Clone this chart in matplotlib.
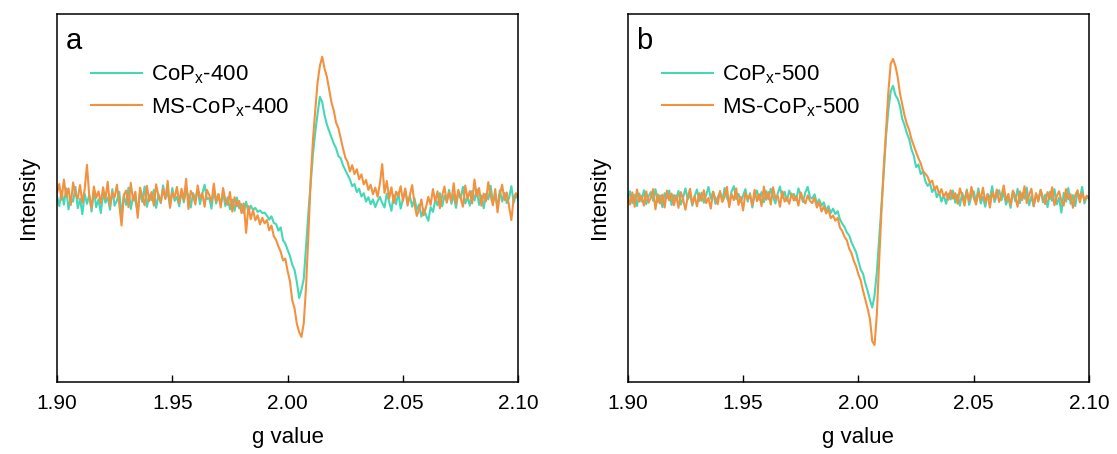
import matplotlib
matplotlib.use('Agg')
import matplotlib.pyplot as plt
import numpy as np

plt.rcParams['font.family'] = ['Liberation Sans', 'DejaVu Sans']
plt.rcParams['mathtext.fontset'] = 'custom'
plt.rcParams['mathtext.rm'] = 'Liberation Sans'

# g axis sampling, 1.900 ... 2.100 step 0.001
g = np.linspace(1.90, 2.10, 201)

# panel a: CoPx-400 (cyan) and MS-CoPx-400 (orange), arbitrary intensity units
a_cop = [
    50.5, 47.8, 51.9, 48.2, 52.6, 46.9, 50.1, 49.0, 53.0, 47.2,
    49.8, 45.6, 51.2, 48.4, 50.9, 46.3, 52.1, 47.5, 49.6, 45.9,
    51.4, 48.7, 50.2, 46.8, 52.4, 47.9, 49.3, 51.7, 45.4, 50.6,
    48.1, 52.8, 47.0, 50.4, 49.1, 46.2, 51.5, 48.9, 53.1, 47.6,
    50.8, 49.4, 52.2, 47.3, 51.0, 48.6, 53.4, 49.9, 51.6, 48.0,
    52.7, 49.2, 50.3, 47.7, 51.8, 48.8, 52.0, 50.7, 47.4, 51.3,
    49.5, 52.5, 48.3, 51.1, 53.6, 49.7, 50.0, 47.1, 52.3, 48.5,
    50.9, 48.2, 51.4, 47.8, 50.2, 46.9, 49.6, 46.5, 50.1, 47.2,
    48.4, 45.8, 49.0, 46.1, 47.9, 46.8, 47.3, 46.2, 46.6, 45.9,
    46.0, 45.2, 44.1, 45.0, 43.2, 42.9, 41.1, 42.0, 38.5, 37.6,
    35.9, 34.2, 31.9, 30.4, 27.1, 22.8, 25.0, 28.0, 37.0, 46.0,
    54.0, 62.0, 68.0, 73.0, 77.5, 76.0, 72.5, 70.0, 68.2, 66.5,
    64.8, 63.5, 61.4, 60.8, 58.9, 57.6, 56.3, 55.0, 53.2, 53.8,
    51.6, 52.5, 50.4, 51.3, 49.0, 50.2, 48.3, 49.6, 47.5, 49.1,
    50.3, 48.6, 47.4, 51.2, 49.0, 46.5, 50.8, 48.3, 51.5, 47.1,
    49.7, 52.0, 48.8, 50.4, 47.6, 49.9, 46.7, 48.2, 44.9, 47.0,
    45.3, 43.8, 47.5, 46.2, 49.4, 48.0, 51.3, 47.7, 50.6, 49.1,
    52.2, 48.4, 50.9, 47.3, 51.6, 49.8, 53.0, 48.5, 50.2, 47.9,
    51.9, 49.3, 52.4, 48.1, 50.7, 47.2, 51.1, 49.6, 53.3, 48.9,
    50.5, 47.8, 52.1, 49.0, 51.4, 48.6, 50.0, 53.2, 48.7, 51.0,
    49.4,
]
a_ms = [
    51.2, 53.8, 49.5, 55.0, 50.3, 52.6, 48.1, 54.2, 51.0, 49.8,
    53.5, 48.7, 52.3, 59.0, 50.6, 47.2, 53.1, 50.0, 51.8, 48.5,
    52.9, 49.6, 54.4, 47.8, 51.5, 50.2, 53.6, 48.3, 42.5, 50.9,
    52.0, 47.5, 54.1, 49.3, 51.7, 44.6, 52.8, 50.4, 48.0, 53.3,
    49.1, 51.6, 47.9, 53.7, 50.5, 48.8, 52.4, 49.7, 54.6, 47.3,
    51.4, 50.1, 53.0, 48.6, 52.5, 49.4, 55.2, 47.0, 51.9, 50.7,
    48.2, 53.4, 49.9, 51.3, 47.6, 52.2, 50.8, 48.9, 53.9, 49.0,
    51.1, 47.4, 52.7, 49.5, 48.1, 51.6, 46.3, 50.2, 47.7, 49.2,
    45.9, 48.5, 40.5, 47.8, 44.2, 46.7, 43.9, 45.3, 42.8, 44.6,
    43.1, 44.0, 41.2, 42.5, 39.6, 38.6, 36.8, 35.4, 33.0, 33.5,
    30.1, 27.4, 22.2, 20.0, 15.8, 13.5, 12.2, 16.0, 26.0, 40.0,
    55.0, 66.0, 74.0, 81.5, 86.0, 88.4, 85.2, 83.0, 79.5, 76.0,
    73.8, 70.5, 69.0, 66.2, 63.5, 61.0, 59.8, 57.2, 58.9, 56.5,
    57.8, 55.1, 56.4, 53.7, 54.9, 52.2, 53.6, 51.0, 52.8, 50.3,
    53.9, 59.2, 51.4, 54.6, 49.8, 52.9, 48.6, 51.7, 50.5, 53.2,
    49.2, 52.6, 47.9, 50.8, 53.5, 48.4, 45.1, 46.8, 49.6, 45.3,
    47.5, 50.3, 48.1, 52.4, 49.0, 51.8, 47.2, 50.6, 53.1, 48.7,
    51.5, 49.2, 54.0, 48.3, 52.2, 50.0, 47.6, 53.4, 49.8, 51.9,
    48.5, 55.0, 50.4, 52.7, 47.9, 51.2, 49.1, 54.3, 50.6, 48.0,
    52.4, 46.1, 50.9, 53.6, 49.4, 51.5, 47.7, 44.0, 49.9, 51.3,
    50.2,
]

# panel b: CoPx-500 (cyan) and MS-CoPx-500 (orange)
b_cop = [
    49.5, 51.8, 48.6, 50.9, 47.8, 51.2, 49.0, 52.1, 48.3, 50.4,
    51.6, 49.2, 52.4, 48.8, 50.7, 47.5, 51.3, 49.9, 52.0, 48.1,
    50.8, 49.4, 51.9, 48.2, 50.1, 52.6, 49.6, 51.0, 47.9, 50.5,
    52.3, 49.1, 51.4, 48.7, 50.9, 53.0, 49.8, 51.7, 48.4, 50.2,
    51.5, 49.3, 52.7, 50.0, 48.6, 51.8, 53.2, 49.7, 51.1, 48.9,
    50.6, 52.4, 49.0, 51.3, 47.4, 50.8, 52.0, 49.5, 51.6, 48.8,
    51.9, 49.6, 52.5, 50.3, 48.5, 51.2, 53.1, 50.0, 51.7, 49.2,
    52.0, 50.4, 51.1, 49.3, 52.6, 50.7, 48.9, 51.5, 53.0, 50.2,
    49.8, 51.0, 48.4, 49.6, 47.9, 48.8, 46.5, 47.8, 45.9, 47.1,
    45.6, 46.4, 44.2, 43.0, 42.1, 40.6, 39.8, 37.9, 36.6, 35.2,
    32.8, 30.5, 29.4, 26.8, 24.7, 22.3, 20.2, 23.5, 30.0, 39.0,
    48.0, 57.0, 67.0, 74.0, 79.0, 80.5, 78.0, 77.0, 75.0, 71.5,
    69.8, 67.6, 66.0, 63.2, 61.5, 58.4, 59.1, 56.5, 57.2, 54.6,
    53.3, 54.0, 51.6, 52.8, 50.2, 51.5, 49.0, 50.8, 48.4, 51.2,
    49.6, 52.0, 48.7, 50.9, 47.9, 51.4, 49.3, 52.3, 48.1, 50.6,
    51.8, 49.0, 52.6, 48.5, 50.3, 47.6, 51.1, 49.7, 53.2, 48.9,
    50.7, 52.1, 49.4, 51.6, 48.2, 50.0, 47.3, 51.9, 49.1, 52.5,
    48.6, 51.3, 49.8, 52.8, 48.0, 50.5, 47.7, 51.0, 49.5, 52.2,
    48.8, 50.9, 47.5, 51.7, 49.2, 52.4, 48.3, 50.1, 46.0, 51.4,
    49.0, 52.7, 48.4, 50.8, 47.8, 51.6, 49.9, 53.0, 48.5, 50.4,
    49.7,
]
b_ms = [
    50.8, 48.2, 51.5, 47.6, 52.3, 49.0, 50.6, 47.9, 51.8, 48.7,
    50.1, 52.4, 46.9, 51.0, 48.5, 50.9, 47.4, 52.0, 49.3, 51.2,
    48.0, 50.7, 47.3, 51.6, 49.6, 46.8, 50.2, 52.5, 48.4, 50.5,
    47.7, 51.3, 49.2, 52.1, 48.6, 50.0, 47.1, 51.7, 49.8, 48.3,
    51.9, 48.9, 50.4, 53.0, 47.5, 51.1, 49.4, 52.6, 48.1, 50.3,
    46.6, 51.4, 49.7, 50.8, 48.0, 52.2, 49.1, 51.0, 47.8, 53.1,
    49.5, 51.6, 48.2, 52.9, 49.9, 50.6, 47.6, 51.8, 49.0, 50.1,
    48.4, 51.2, 49.3, 50.5, 47.9, 51.5, 49.6, 48.5, 50.7, 49.2,
    48.6, 50.0, 47.4, 48.9, 46.3, 47.7, 45.8, 46.9, 44.5, 45.2,
    43.8, 44.6, 41.9, 41.0, 39.4, 38.5, 36.2, 35.0, 32.9, 31.4,
    29.2, 27.6, 24.8, 22.3, 19.9, 17.1, 11.0, 10.0, 18.5, 33.0,
    46.5, 58.5, 68.5, 79.0, 86.5, 87.8, 86.0, 83.0, 78.5, 75.5,
    72.4, 70.1, 68.5, 66.0, 64.2, 62.5, 60.8, 59.4, 57.3, 56.6,
    55.8, 54.1, 54.7, 52.3, 53.2, 51.0, 52.4, 50.2, 51.6, 49.5,
    52.1, 49.8, 51.3, 48.4, 52.6, 50.5, 47.9, 51.9, 49.1, 53.0,
    50.0, 48.2, 51.7, 49.5, 52.8, 48.8, 50.9, 47.4, 51.5, 49.7,
    52.3, 48.9, 50.6, 53.4, 49.2, 51.1, 48.0, 52.0, 50.4, 47.6,
    51.8, 49.4, 53.2, 48.6, 50.8, 52.5, 47.8, 51.3, 49.0, 52.2,
    50.1, 48.3, 51.6, 49.7, 52.9, 48.0, 50.5, 51.8, 49.2, 47.9,
    52.4, 49.6, 51.0, 47.3, 50.7, 52.1, 48.8, 51.4, 49.3, 50.6,
    50.0,
]

panels = [
    ('a', a_cop, a_ms, 'CoP$_\\mathregular{x}$-400', 'MS-CoP$_\\mathregular{x}$-400'),
    ('b', b_cop, b_ms, 'CoP$_\\mathregular{x}$-500', 'MS-CoP$_\\mathregular{x}$-500'),
]
xticks = [1.90, 1.95, 2.00, 2.05, 2.10]
tick_labels = ['1.90', '1.95', '2.00', '2.05', '2.10']

cyan = '#45d8b6'
orange = '#f4913f'

fig = plt.figure(figsize=(11.17, 4.54), dpi=100)
lefts = [0.051, 0.562]

for left, (letter, cop, ms, lab1, lab2) in zip(lefts, panels):
    ax = fig.add_axes([left, 0.159, 0.413, 0.81])
    ax.plot(g, cop, color=cyan, lw=1.5, label=lab1)
    ax.plot(g, ms, color=orange, lw=1.5, label=lab2)
    ax.set_xlim(1.90, 2.10)
    ax.set_ylim(0, 100)
    ax.set_xticks(xticks)
    ax.set_xticklabels(tick_labels)
    ax.set_yticks([])
    ax.tick_params(axis='x', direction='in', length=5, width=1, labelsize=15, pad=9)
    for s in ax.spines.values():
        s.set_linewidth(1.1)
    ax.set_xlabel('g value', fontsize=16, labelpad=10)
    ax.set_ylabel('Intensity', fontsize=16, labelpad=13)
    ax.text(0.018, 0.965, letter, transform=ax.transAxes, fontsize=21,
            ha='left', va='top')
    ax.legend(loc='upper left', bbox_to_anchor=(0.055, 0.89), frameon=False,
              fontsize=16, handlelength=2.3, handletextpad=0.4,
              labelspacing=0.45, borderaxespad=0)

fig.savefig('out.png', dpi=100)
